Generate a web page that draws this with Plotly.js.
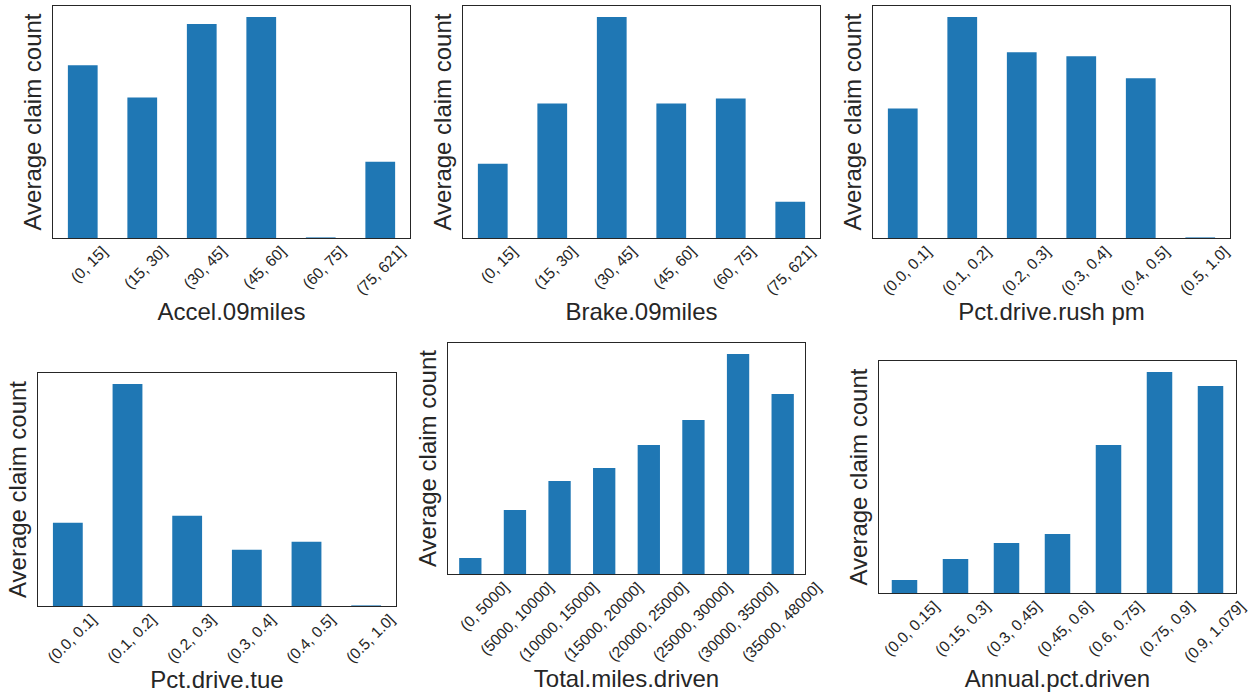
<!DOCTYPE html>
<html>
<head>
<meta charset="utf-8">
<script src="https://cdn.plot.ly/plotly-3.0.1.min.js"></script>
<style>html,body{margin:0;padding:0;background:#fff;}#chart{width:1249px;height:696px;}</style>
</head>
<body>
<div id="chart"></div>
<script>
// ---- data (average claim count by bin, arbitrary units) ----
const accelCats = ["(0, 15]", "(15, 30]", "(30, 45]", "(45, 60]", "(60, 75]", "(75, 621]"];
const accelVals = [0.172, 0.140, 0.213, 0.220, 0.0006, 0.076];

const brakeCats = ["(0, 15]", "(15, 30]", "(30, 45]", "(45, 60]", "(60, 75]", "(75, 621]"];
const brakeVals = [0.074, 0.134, 0.220, 0.134, 0.139, 0.036];

const rushCats = ["(0.0, 0.1]", "(0.1, 0.2]", "(0.2, 0.3]", "(0.3, 0.4]", "(0.4, 0.5]", "(0.5, 1.0]"];
const rushVals = [0.129, 0.220, 0.185, 0.181, 0.159, 0.0006];

const tueCats = ["(0.0, 0.1]", "(0.1, 0.2]", "(0.2, 0.3]", "(0.3, 0.4]", "(0.4, 0.5]", "(0.5, 1.0]"];
const tueVals = [0.083, 0.221, 0.090, 0.056, 0.064, 0.0006];

const milesCats = ["(0, 5000]", "(5000, 10000]", "(10000, 15000]", "(15000, 20000]", "(20000, 25000]", "(25000, 30000]", "(30000, 35000]", "(35000, 48000]"];
const milesVals = [0.016, 0.064, 0.093, 0.106, 0.129, 0.154, 0.220, 0.180];

const annualCats = ["(0.0, 0.15]", "(0.15, 0.3]", "(0.3, 0.45]", "(0.45, 0.6]", "(0.6, 0.75]", "(0.75, 0.9]", "(0.9, 1.079]"];
const annualVals = [0.013, 0.034, 0.050, 0.059, 0.148, 0.221, 0.207];

const xTitles = ["Accel.09miles", "Brake.09miles", "Pct.drive.rush pm", "Pct.drive.tue", "Total.miles.driven", "Annual.pct.driven"];
const yTitle = "Average claim count";

// ---- layout helpers ----
const W = 1249, H = 696;
const panels = [
  {cats: accelCats, vals: accelVals, box: [53, 410, 6, 238], shift: 20},
  {cats: brakeCats, vals: brakeVals, box: [463, 820, 6, 238], shift: 20},
  {cats: rushCats, vals: rushVals, box: [873, 1230, 6, 238], shift: 24},
  {cats: tueCats, vals: tueVals, box: [38, 396, 373, 606], shift: 24},
  {cats: milesCats, vals: milesVals, box: [448, 805, 343, 574], shift: 34},
  {cats: annualCats, vals: annualVals, box: [879, 1236, 361, 593], shift: 30}
];

const ink = '#262626';
const data = [];
const layout = {
  width: W, height: H,
  margin: {l: 0, r: 0, t: 0, b: 0},
  paper_bgcolor: '#ffffff', plot_bgcolor: '#ffffff',
  showlegend: false,
  font: {family: 'Liberation Sans, Arial, sans-serif', color: ink},
  bargap: 0.5
};

panels.forEach((p, i) => {
  const n = i + 1;
  const xs = n === 1 ? '' : String(n);
  data.push({
    type: 'bar', x: p.cats, y: p.vals,
    xaxis: 'x' + xs, yaxis: 'y' + xs,
    marker: {color: '#1f77b4', line: {width: 0}},
    width: 0.5, hoverinfo: 'x+y'
  });
  const [x0, x1, y0, y1] = p.box;
  layout['xaxis' + xs] = {
    domain: [x0 / W, x1 / W],
    anchor: 'y' + xs,
    type: 'category',
    range: [-0.5, p.cats.length - 0.5],
    showline: true, mirror: true, linecolor: ink, linewidth: 1.25,
    ticks: '', showgrid: false, zeroline: false,
    tickangle: -45, tickfont: {size: 15.5, color: ink},
    ticklabelshift: p.shift,
    ticklabelstandoff: -3,
    automargin: false,
    title: {text: xTitles[i], font: {size: 24, color: ink}, standoff: 6}
  };
  layout['yaxis' + xs] = {
    domain: [1 - y1 / H, 1 - y0 / H],
    anchor: 'x' + xs,
    range: [0, Math.max(...p.vals) * 1.05],
    showline: true, mirror: true, linecolor: ink, linewidth: 1.25,
    ticks: '', showgrid: false, zeroline: false, showticklabels: false,
    automargin: false,
    title: {text: yTitle, font: {size: 24, color: ink}, standoff: 3}
  };
});

Plotly.newPlot('chart', data, layout, {displayModeBar: false, staticPlot: true});
</script>
</body>
</html>
